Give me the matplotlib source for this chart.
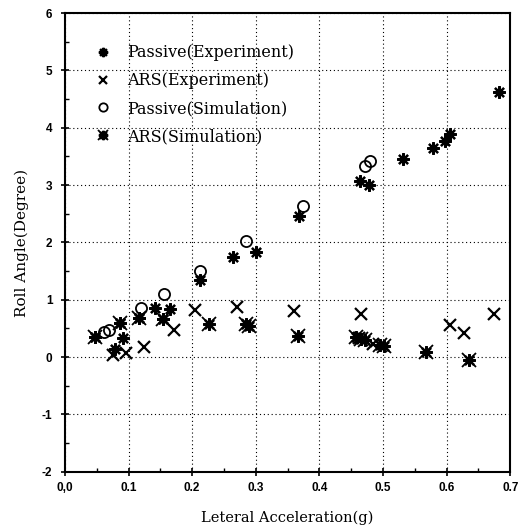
import matplotlib
matplotlib.use("Agg")
import matplotlib.pyplot as plt
from matplotlib.ticker import MultipleLocator, FixedLocator
from matplotlib.legend_handler import HandlerTuple

# Passive (Experiment)
pe_x = [0.048, 0.078, 0.086, 0.091, 0.117, 0.142, 0.154, 0.165, 0.213, 0.264,
        0.300, 0.368, 0.464, 0.478, 0.531, 0.578, 0.598, 0.606, 0.683]
pe_y = [0.35, 0.14, 0.60, 0.33, 0.68, 0.86, 0.66, 0.84, 1.35, 1.75,
        1.83, 2.46, 3.07, 3.01, 3.45, 3.64, 3.77, 3.89, 4.63]

# ARS (Experiment)
ae_x = [0.075, 0.096, 0.125, 0.172, 0.205, 0.270, 0.360, 0.465, 0.462, 0.485,
        0.605, 0.628, 0.675]
ae_y = [0.04, 0.08, 0.17, 0.48, 0.83, 0.87, 0.80, 0.75, 0.33, 0.23,
        0.56, 0.42, 0.75]

# Passive (Simulation)
ps_x = [0.062, 0.070, 0.120, 0.155, 0.213, 0.285, 0.374, 0.472, 0.480]
ps_y = [0.44, 0.48, 0.86, 1.11, 1.50, 2.02, 2.63, 3.33, 3.42]

# ARS (Simulation)
as_x = [0.048, 0.086, 0.117, 0.154, 0.226, 0.285, 0.290, 0.367, 0.457, 0.465,
        0.472, 0.495, 0.502, 0.568, 0.636]
as_y = [0.35, 0.60, 0.68, 0.66, 0.58, 0.57, 0.54, 0.37, 0.35, 0.32,
        0.30, 0.21, 0.20, 0.09, -0.05]

labels = ["Passive(Experiment)", "ARS(Experiment)", "Passive(Simulation)", "ARS(Simulation)"]
x_ticks = [0.0, 0.1, 0.2, 0.3, 0.4, 0.5, 0.6, 0.7]
x_ticklabels = ["0,0", "0.1", "0.2", "0.3", "0.4", "0.5", "0.6", "0.7"]
y_ticks = [-2, -1, 0, 1, 2, 3, 4, 5, 6]
y_ticklabels = ["-2", "-1", "0", "1", "2", "3", "4", "5", "6"]

fig = plt.figure(figsize=(5.32, 5.26), dpi=100)
ax = fig.add_axes([0.122, 0.103, 0.837, 0.872])

serif = "DejaVu Serif"

h1, = ax.plot(pe_x, pe_y, ls="none", marker=(8, 2, 0), ms=9, mew=1.6, color="black")
h2, = ax.plot(ae_x, ae_y, ls="none", marker="x", ms=8, mew=1.6, color="black")
h3, = ax.plot(ps_x, ps_y, ls="none", marker="o", ms=8, mew=1.3, mfc="none", color="black")
h4a, = ax.plot(as_x, as_y, ls="none", marker=(8, 2, 0), ms=9, mew=1.6, color="black")
h4b, = ax.plot(as_x, as_y, ls="none", marker="x", ms=10, mew=1.3, color="black")

ax.set_xlim(0, 0.7)
ax.set_ylim(-2, 6)
ax.xaxis.set_major_locator(FixedLocator(x_ticks))
ax.set_xticklabels(x_ticklabels)
ax.yaxis.set_major_locator(FixedLocator(y_ticks))
ax.set_yticklabels(y_ticklabels)
ax.xaxis.set_minor_locator(MultipleLocator(0.05))
ax.yaxis.set_minor_locator(MultipleLocator(0.5))
ax.tick_params(which="both", top=False, right=False)
ax.tick_params(which="major", direction="inout", length=6, width=1.2)
ax.tick_params(which="minor", direction="in", length=3, width=1.0)
for lab in ax.get_xticklabels() + ax.get_yticklabels():
    lab.set_fontfamily("Liberation Sans")
    lab.set_fontweight("bold")
    lab.set_fontsize(8.5)
ax.tick_params(axis="x", which="major", pad=4)
ax.tick_params(axis="y", which="major", pad=6)

ax.grid(True, which="major", linestyle=(0, (1, 2.5)), color="black", linewidth=0.8)
for s in ax.spines.values():
    s.set_linewidth(1.5)

ax.set_xlabel("Leteral Acceleration(g)", fontfamily=serif, fontsize=10.5, labelpad=12)
ax.set_ylabel("Roll Angle(Degree)", fontfamily=serif, fontsize=11, labelpad=9)

leg = ax.legend([h1, h2, h3, (h4a, h4b)], labels, loc="upper left",
                bbox_to_anchor=(0.0674, 0.932), frameon=False,
                prop={"family": serif, "size": 11.5}, handlelength=1.0,
                handletextpad=1.0, labelspacing=0.68, borderaxespad=0.0,
                borderpad=0.0, markerscale=0.75,
                handler_map={tuple: HandlerTuple(ndivide=1)})

fig.savefig("out.png", dpi=100)
